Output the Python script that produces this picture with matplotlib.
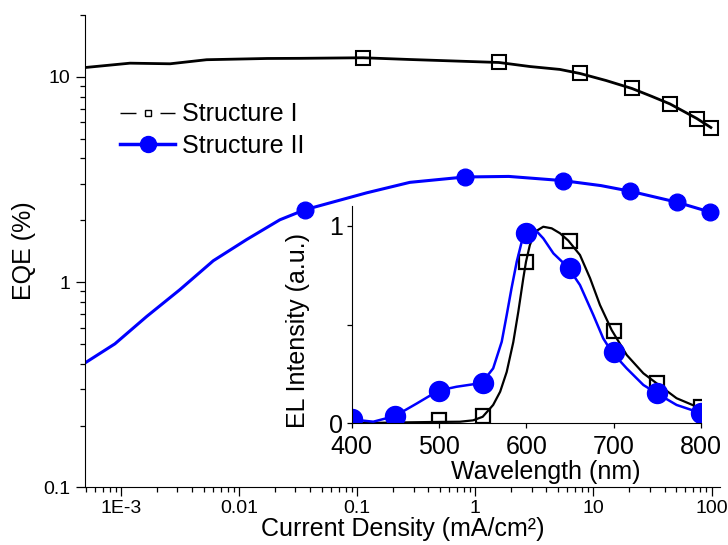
"""EQE vs current density with EL spectrum inset
"""

import numpy as np
import matplotlib
matplotlib.use('Agg')
import matplotlib.pyplot as plt
from matplotlib.lines import Line2D
from matplotlib.ticker import FixedLocator, LogLocator, NullFormatter

plt.rcParams['font.family'] = ['Liberation Sans', 'DejaVu Sans']

# main panel: EQE (%) vs current density (mA/cm2)
j_s1 = [5e-4, 1.19e-3, 2.6e-3, 5.3e-3, 0.0172, 0.0327, 0.112, 0.279, 1.585,
        2.9, 5.2, 7.69, 12.8, 21.2, 31.0, 44.4, 75.2, 98.8]
eqe_s1 = [11.10, 11.65, 11.57, 12.11, 12.28, 12.30, 12.38, 12.14, 11.74,
          11.22, 10.86, 10.38, 9.59, 8.77, 8.04, 7.38, 6.26, 5.66]
j_s1_mk = [0.112, 1.585, 7.69, 21.2, 44.4, 75.2, 98.8]
eqe_s1_mk = [12.38, 11.74, 10.38, 8.77, 7.38, 6.26, 5.66]

j_s2 = [5e-4, 8.87e-4, 1.65e-3, 3.14e-3, 6.04e-3, 0.01156, 0.0221, 0.036,
        0.12, 0.279, 0.816, 1.92, 5.52, 11.6, 20.5, 50.8, 98.0]
eqe_s2 = [0.405, 0.50, 0.68, 0.917, 1.27, 1.61, 2.01, 2.25,
          2.72, 3.06, 3.25, 3.27, 3.12, 2.95, 2.77, 2.45, 2.19]
j_s2_mk = [0.036, 0.816, 5.52, 20.5, 50.8, 98.0]
eqe_s2_mk = [2.25, 3.25, 3.12, 2.77, 2.45, 2.19]

# inset: normalised EL spectra
wl_s1 = [400, 450, 500, 524, 539, 550, 562, 570, 577.5, 585, 590.8, 596.5,
         599.6, 604, 610, 619.4, 629, 638.5, 648, 661.4, 673, 684.3, 697.7,
         714.9, 734, 749.3, 772, 795, 800]
el_s1 = [0.0, 0.004, 0.007, 0.008, 0.015, 0.033, 0.093, 0.16, 0.26, 0.41,
         0.565, 0.734, 0.818, 0.902, 0.97, 0.995, 0.987, 0.962, 0.925, 0.852,
         0.734, 0.599, 0.472, 0.346, 0.253, 0.202, 0.127, 0.084, 0.081]
wl_s1_mk = [500, 550, 600, 650, 700, 750, 800]
el_s1_mk = [0.018, 0.035, 0.818, 0.923, 0.467, 0.204, 0.081]

wl_s2 = [400, 424.7, 449.6, 474.4, 499.2, 520, 548.9, 562, 571.8, 577.5, 583,
         589, 594.7, 599.3, 608, 619.4, 631, 648, 661.4, 676.7, 688, 697.7,
         714.9, 734, 749.3, 772, 797, 800]
el_s2 = [0.02, 0.008, 0.037, 0.10, 0.165, 0.185, 0.204, 0.278, 0.413, 0.548,
         0.683, 0.818, 0.919, 0.962, 0.99, 0.936, 0.86, 0.788, 0.70, 0.548,
         0.43, 0.362, 0.278, 0.194, 0.152, 0.093, 0.056, 0.054]
wl_s2_mk = [400, 450, 500, 550, 600, 650, 700, 750, 800]
el_s2_mk = [0.02, 0.037, 0.165, 0.204, 0.962, 0.784, 0.362, 0.152, 0.054]

blue = '#0000ff'

fig = plt.figure(figsize=(7.28, 5.45), dpi=100)
ax = fig.add_axes([85/728, 1 - 487.3/545, 635/728, 472.3/545])

ax.plot(j_s1, eqe_s1, '-', color='k', lw=2.0)
ax.plot(j_s1_mk, eqe_s1_mk, 's', ms=9.4, mfc='none', mec='k', mew=1.5)
ax.plot(j_s2, eqe_s2, '-', color=blue, lw=2.2)
ax.plot(j_s2_mk, eqe_s2_mk, 'o', ms=12, mfc=blue, mec=blue)

ax.set_xscale('log')
ax.set_yscale('log')
ax.set_xlim(4.95e-4, 118)
ax.set_ylim(0.1, 20)
ax.spines['top'].set_visible(False)
ax.spines['right'].set_visible(False)

ax.xaxis.set_major_locator(FixedLocator([1e-3, 1e-2, 1e-1, 1, 10, 100]))
ax.set_xticklabels(['1E-3', '0.01', '0.1', '1', '10', '100'])
ax.xaxis.set_minor_locator(LogLocator(base=10, subs=np.arange(2, 10)))
ax.xaxis.set_minor_formatter(NullFormatter())
ax.yaxis.set_major_locator(FixedLocator([0.1, 1, 10]))
ax.set_yticklabels(['0.1', '1', '10'])
ax.yaxis.set_minor_locator(LogLocator(base=10, subs=np.arange(2, 10)))
ax.yaxis.set_minor_formatter(NullFormatter())
ax.tick_params(which='major', direction='out', length=6.5, width=0.9,
               labelsize=14, pad=4)
ax.tick_params(axis='x', pad=3)
ax.tick_params(which='minor', direction='out', length=3.8, width=0.9)
ax.set_xlabel('Current Density (mA/cm\u00b2)', fontsize=18, labelpad=0)
ax.set_ylabel('EQE (%)', fontsize=18, labelpad=5)

# legend, black entry drawn as "- o -"
h1 = Line2D([], [], color='k', lw=1.0, dashes=(11.5, 17.3),
            marker='s', ms=5, mfc='none', mec='k', mew=1.0)
h2 = Line2D([], [], color=blue, lw=2.5, marker='o', ms=11.5,
            mfc=blue, mec=blue)
ax.legend([h1, h2], ['Structure I', 'Structure II'], loc='center left',
          bbox_to_anchor=(120/728, 1 - 130/545), bbox_transform=fig.transFigure,
          frameon=False, fontsize=18, handlelength=2.2, handletextpad=0.3,
          labelspacing=0.3, borderpad=0, borderaxespad=0)

# inset
ins = fig.add_axes([351.7/728, 1 - 423.3/545, 349.3/728, 217.3/545])
ins.plot(wl_s1, el_s1, '-', color='k', lw=1.6)
ins.plot(wl_s1_mk, el_s1_mk, 's', ms=10.5, mfc='none', mec='k', mew=1.6)
ins.plot(wl_s2, el_s2, '-', color=blue, lw=1.8)
ins.plot(wl_s2_mk, el_s2_mk, 'o', ms=14.4, mfc=blue, mec=blue)
ins.set_xlim(400, 800)
ins.set_ylim(0, 1.1)
ins.patch.set_alpha(0)
ins.spines['top'].set_visible(False)
ins.spines['right'].set_visible(False)
ins.set_xticks([400, 500, 600, 700, 800])
ins.set_yticks([0, 0.5, 1])
ins.set_yticklabels(['0', '', '1'])
ins.tick_params(which='both', direction='out', length=3.5, width=0.9,
                labelsize=18, pad=3)
ins.tick_params(axis='x', pad=5)
ins.set_xlabel('Wavelength (nm)', fontsize=18, labelpad=1)
ins.set_ylabel('EL Intensity (a.u.)', fontsize=18, labelpad=4)
ins.xaxis.set_label_coords(0.556, -0.17)
ins.yaxis.set_label_coords(-0.12, 0.425)

fig.savefig('out.png', dpi=100)
